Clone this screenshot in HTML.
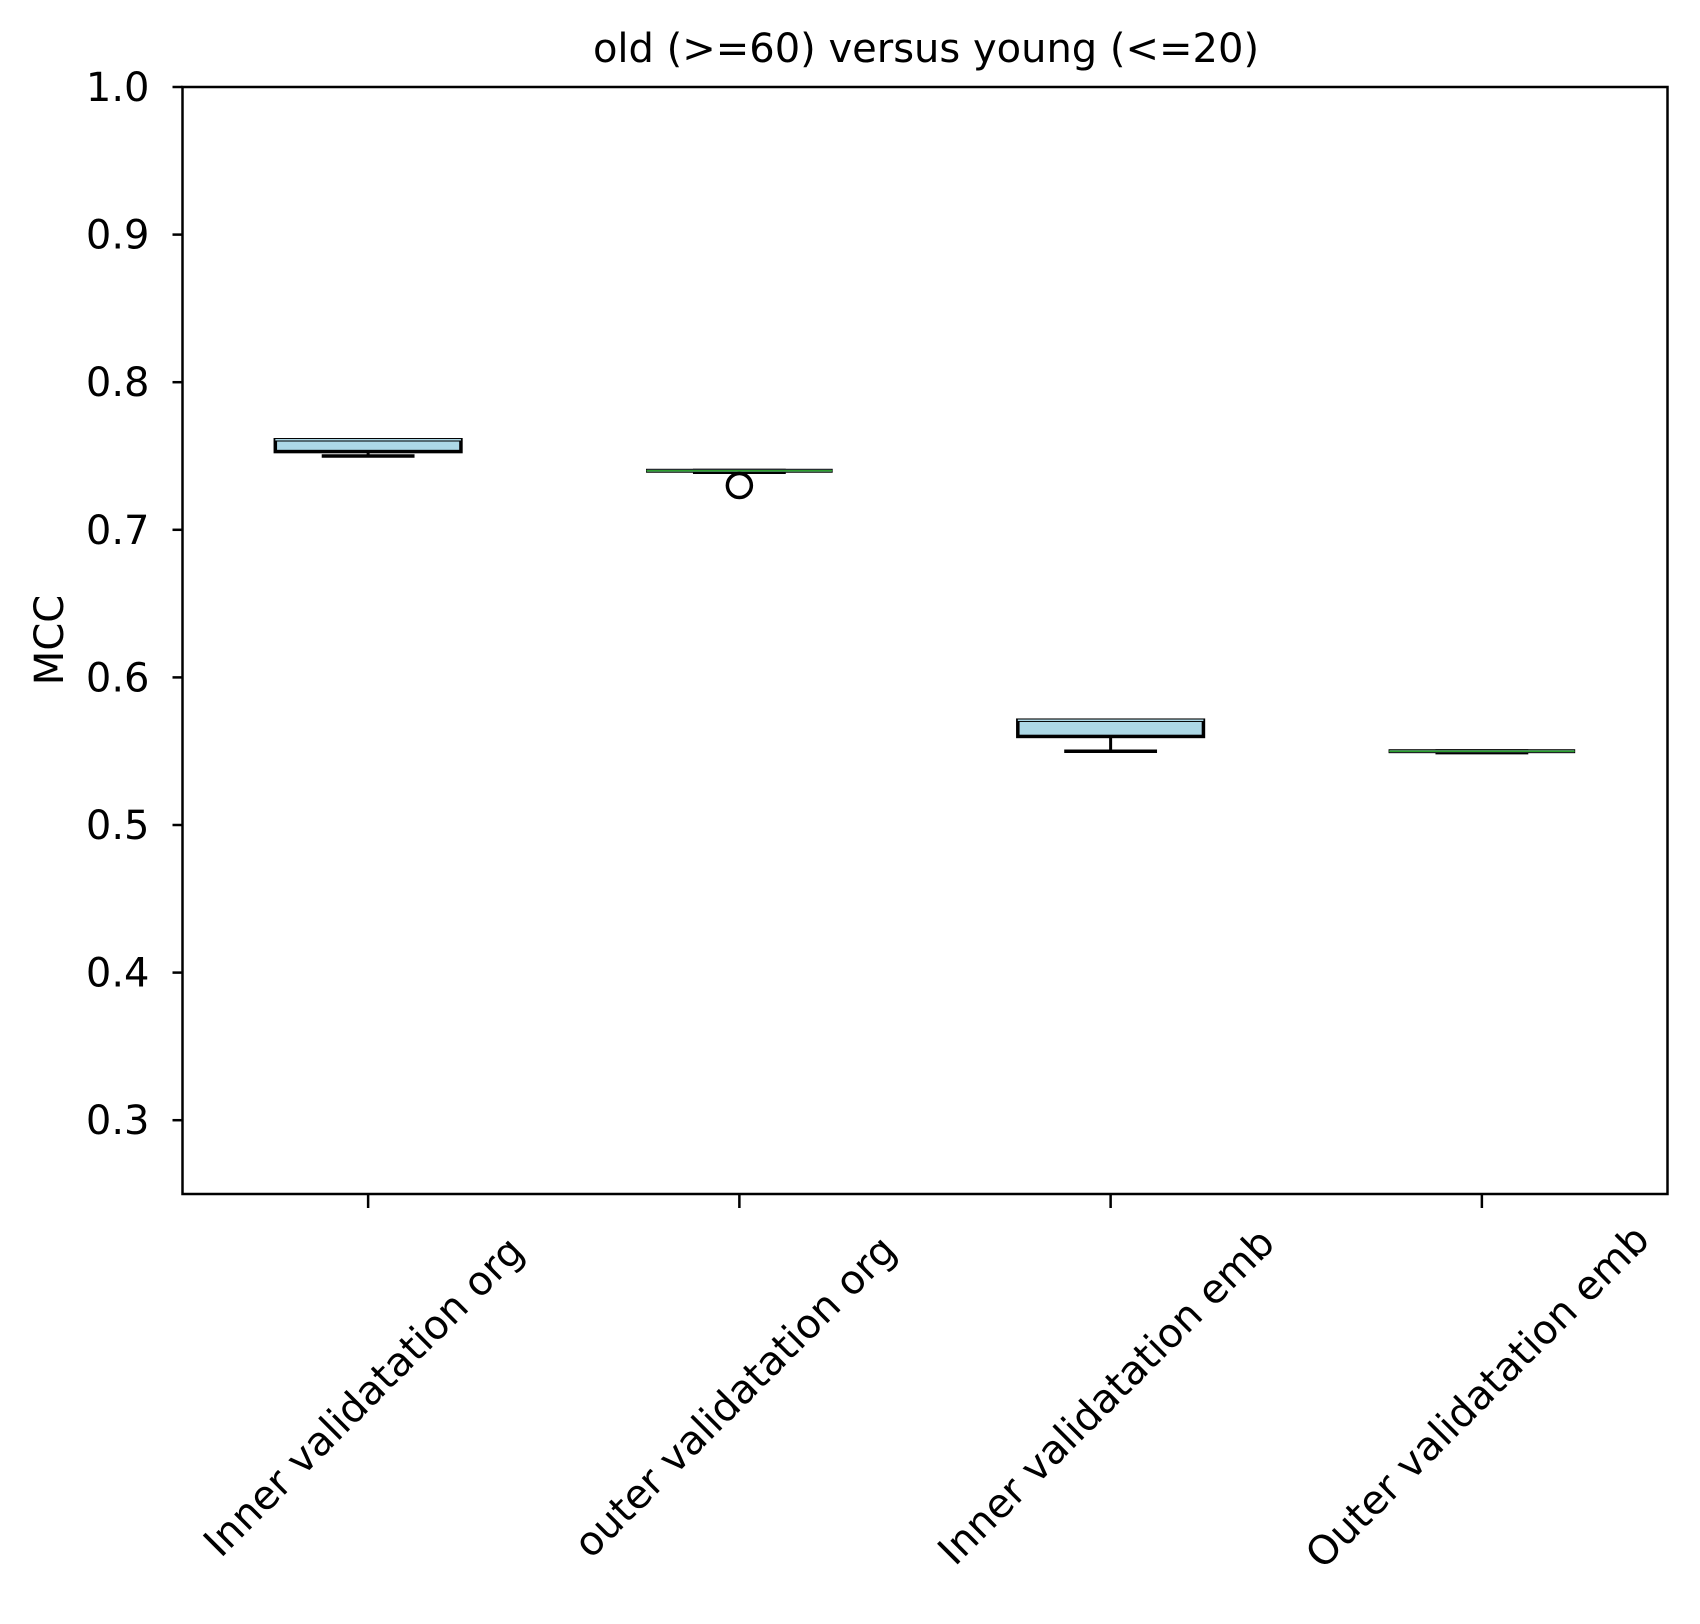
<!DOCTYPE html>
<html><head><meta charset="utf-8"><style>
html,body{margin:0;padding:0;background:#fff;}
svg{display:block;font-family:"DejaVu Sans","Liberation Sans",sans-serif;}
</style></head><body>
<svg id="chart" width="1700" height="1624" viewBox="0 0 1700 1624">
<rect x="0" y="0" width="1700" height="1624" fill="#fff"/>
<text x="926" y="62" font-size="40" text-anchor="middle">old (&gt;=60) versus young (&lt;=20)</text>
<text transform="translate(63,640) rotate(-90)" font-size="40" text-anchor="middle">MCC</text>
<g id="plot"></g>
<rect x="182.5" y="87" width="1485" height="1107" fill="none" stroke="#000" stroke-width="2.5"/>
</svg>
<script>
const categories = ["Inner validatation org","outer validatation org","Inner validatation emb","Outer validatation emb"];
const q1Values = [0.753, 0.739, 0.56, 0.549];
const q3Values = [0.761, 0.741, 0.571, 0.551];
const medianValues = [0.761, 0.74, 0.571, 0.55];
const whiskerLow = [0.75, 0.739, 0.55, 0.549];
const whiskerHigh = [0.761, 0.741, 0.571, 0.551];
const outlierValues = [[], [0.73], [], []];
const yTicks = [0.3, 0.4, 0.5, 0.6, 0.7, 0.8, 0.9, 1.0];
const yTickLabels = ["0.3","0.4","0.5","0.6","0.7","0.8","0.9","1.0"];

const X0=182.5, X1=1667.5, Y0=87, Y1=1194, YMIN=0.25, YMAX=1.0;
const ys = v => Y1 - (v-YMIN)/(YMAX-YMIN)*(Y1-Y0);
const step = (X1-X0)/categories.length;
const xs = i => X0 + step*(i+0.5);
const NS="http://www.w3.org/2000/svg";
const g=document.getElementById('plot');
function mk(tag, attrs){const e=document.createElementNS(NS,tag);for(const k in attrs)e.setAttribute(k,attrs[k]);g.appendChild(e);return e;}

yTicks.forEach((t,i)=>{
  const y=ys(t);
  const tk=mk('line',{x1:X0-10,x2:X0,y1:y,y2:y,stroke:'#000','stroke-width':2.5});
  
  
  const lb=mk('text',{x:X0-33,y:y+14,'font-size':40,'text-anchor':'end'});
  lb.textContent=yTickLabels[i];
  
  
});

const bw = step*0.5;
categories.forEach((c,i)=>{
  const cx=xs(i);
  const tk=mk('line',{x1:cx,x2:cx,y1:Y1,y2:Y1+14,stroke:'#000','stroke-width':2.5});
  
  
  const lb=mk('text',{x:0,y:0,'font-size':40,'text-anchor':'middle','dominant-baseline':'central',transform:`translate(${cx-4},${1397}) rotate(-45)`});
  lb.textContent=c;
  
  

  const cw=bw*0.5;
  const wl=mk('line',{x1:cx,x2:cx,y1:ys(whiskerLow[i]),y2:ys(q1Values[i]),stroke:'#000','stroke-width':3});
  
  
  const cl=mk('line',{x1:cx-cw/2,x2:cx+cw/2,y1:ys(whiskerLow[i]),y2:ys(whiskerLow[i]),stroke:'#000','stroke-width':3.5});
  
  
  const ch=mk('line',{x1:cx-cw/2,x2:cx+cw/2,y1:ys(whiskerHigh[i]),y2:ys(whiskerHigh[i]),stroke:'#000','stroke-width':1});
  
  
  const top=ys(q3Values[i]), bot=ys(q1Values[i]);
  const bx=mk('rect',{x:cx-bw/2,y:top,width:bw,height:Math.max(bot-top,0.5),fill:'#add8e6',stroke:'#000','stroke-width':(bot-top>3)?3.5:1});
  
  
  const md=mk('line',{x1:cx-bw/2,x2:cx+bw/2,y1:ys(medianValues[i]),y2:ys(medianValues[i]),stroke:(bot-top>3)?'#add8e6':'#2ca02c','stroke-width':1.5});
  
  
  outlierValues[i].forEach(v=>{
    const o=mk('circle',{cx:cx,cy:ys(v),r:12,fill:'none',stroke:'#000','stroke-width':3.5});
    
    
  });
});
</script>
</body></html>
